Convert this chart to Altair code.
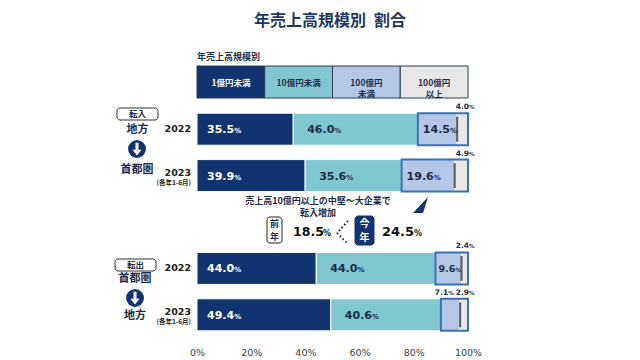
import altair as alt
import pandas as pd

# ---------------- data ----------------
categories = ["1億円未満", "10億円未満", "100億円未満", "100億円以上"]
legend_text = ["1億円未満", "10億円未満", "100億円\n未満", "100億円\n以上"]
rows = ["転入2022", "転入2023", "gap", "転出2022", "転出2023"]
bar_rows = ["転入2022", "転入2023", "転出2022", "転出2023"]
year_labels = ["2022", "2023", "2022", "2023"]
year_notes = ["", "(各年1-6月)", "", "(各年1-6月)"]
in_2022 = [35.5, 46.0, 14.5, 4.0]
in_2023 = [39.9, 35.6, 19.6, 4.9]
out_2022 = [44.0, 44.0, 9.6, 2.4]
out_2023 = [49.4, 40.6, 7.1, 2.9]
series = [in_2022, in_2023, out_2022, out_2023]
prev_share = "18.5"
now_share = "24.5"
x_ticks = [0, 20, 40, 60, 80, 100]

# ---------------- style ----------------
W, H = 271, 232
PX = W / 100
NUM_FONT = "DejaVu Sans"
JP_FONT = "Noto Sans CJK JP"
NAVY = "#0f3470"
DARK = "#1c2b4a"
seg_colors = [NAVY, "#81c7d2", "#b4c7e7", "#e7e7e7"]
pad_px = [10, 14, 5, 0]

recs = []
for r, vals in zip(bar_rows, series):
    s = 0.0
    total = sum(vals)
    for i, (c, v) in enumerate(zip(categories, vals)):
        num = f"{v:.1f}"
        e = s + v
        inside = bool(v >= 8)
        narrow = v < 12
        fs = 9.5 if narrow else 11
        pfs = 6 if narrow else 7
        pad = 3 if narrow else pad_px[i]
        numw = ((len(num) - 1) * 0.696 + 0.381) * fs
        off = 1 if i == 3 else -12
        recs.append(dict(row=r, cat=c, seg=i, value=v, start=s, end=e, rend=total,
                         num=num, inside=inside, fs=fs, pfs=pfs,
                         nx=s + pad / PX, px=s + (pad + numw) / PX,
                         ox=e + off / PX))
        s = e
df = pd.DataFrame(recs)
ldf = pd.DataFrame({"cat": categories, "ltext": legend_text})
ydf = pd.DataFrame({"row": bar_rows, "year": year_labels, "note": year_notes})
dummy = pd.DataFrame({"_": [0]})

xscale = alt.Scale(domain=[0, 100], nice=False, zero=True)
y_enc = alt.Y("row:N", scale=alt.Scale(domain=rows, paddingInner=0.31, paddingOuter=0.155), axis=None)
color_enc = alt.Color("cat:N", scale=alt.Scale(domain=categories, range=seg_colors), legend=None)
fs_enc = alt.Size("fs:Q", scale=None, legend=None)
pfs_enc = alt.Size("pfs:Q", scale=None, legend=None)


def xq(field, axis=None):
    return alt.X(field, scale=xscale, axis=axis)


base = alt.Chart(df)
x_axis = alt.Axis(values=x_ticks, labelExpr="datum.value + '%'", domain=False, ticks=False,
                  grid=False, labelFont=NUM_FONT, labelFontSize=9.5, labelColor="#404040",
                  labelPadding=9, labelFlush=False, title=None)

bars = base.mark_rect(stroke="white", strokeWidth=1).encode(
    x=xq("start:Q", x_axis), x2="end:Q", y=y_enc, color=color_enc)
outline = base.transform_filter("datum.seg == 2").mark_rect(
    fillOpacity=0, stroke="#3a70b5", strokeWidth=2).encode(x=xq("start:Q"), x2="rend:Q", y=y_enc)
tick = base.transform_filter("datum.seg == 2").mark_tick(
    color="#1a1a1a", thickness=2, size=25).encode(x=xq("end:Q"), y=y_enc)

num_in_w = base.transform_filter("datum.inside && datum.seg == 0").mark_text(
    align="left", baseline="alphabetic", dy=4, font=NUM_FONT, fontWeight="bold",
    color="white").encode(x=xq("nx:Q"), y=y_enc, text="num:N", size=fs_enc)
pct_in_w = base.transform_filter("datum.inside && datum.seg == 0").mark_text(
    align="left", baseline="alphabetic", dy=4, font=NUM_FONT, fontWeight="bold",
    color="white", text="%").encode(x=xq("px:Q"), y=y_enc, size=pfs_enc)
num_in_d = base.transform_filter("datum.inside && datum.seg > 0").mark_text(
    align="left", baseline="alphabetic", dy=4, font=NUM_FONT, fontWeight="bold",
    color=DARK).encode(x=xq("nx:Q"), y=y_enc, text="num:N", size=fs_enc)
pct_in_d = base.transform_filter("datum.inside && datum.seg > 0").mark_text(
    align="left", baseline="alphabetic", dy=4, font=NUM_FONT, fontWeight="bold",
    color=DARK, text="%").encode(x=xq("px:Q"), y=y_enc, size=pfs_enc)
num_out = base.transform_filter("!datum.inside").mark_text(
    align="right", baseline="alphabetic", dy=-20, font=NUM_FONT, fontWeight="bold",
    fontSize=7.5, color=DARK).encode(x=xq("ox:Q"), y=y_enc, text="num:N")
pct_out = base.transform_filter("!datum.inside").mark_text(
    align="left", baseline="alphabetic", dy=-20, font=NUM_FONT, fontWeight="bold",
    fontSize=5.5, color=DARK, text="%").encode(x=xq("ox:Q"), y=y_enc)

ybase = alt.Chart(ydf)
year_plain = ybase.transform_filter("datum.note == ''").mark_text(
    align="right", baseline="middle", font=NUM_FONT, fontWeight="bold", fontSize=9.5,
    color="#222").encode(x=alt.value(-6), y=y_enc, text="year:N")
year_main = ybase.transform_filter("datum.note != ''").mark_text(
    align="right", baseline="middle", dy=-3, font=NUM_FONT, fontWeight="bold", fontSize=9.5,
    color="#222").encode(x=alt.value(-6), y=y_enc, text="year:N")
year_note = ybase.transform_filter("datum.note != ''").mark_text(
    align="right", baseline="middle", dy=7, font=JP_FONT, fontWeight="bold", fontSize=6.5,
    color="#222").encode(x=alt.value(-6), y=y_enc, text="note:N")

# legend
leg_x = alt.X("cat:N", scale=alt.Scale(domain=categories, paddingInner=0, paddingOuter=0), axis=None)
leg_rect = alt.Chart(ldf).mark_rect(stroke="#2b3a55", strokeWidth=1).encode(
    x=leg_x, y=alt.value(-40), y2=alt.value(-8), color=color_enc)
leg_text = alt.Chart(ldf).mark_text(font=JP_FONT, fontSize=8.5, fontWeight="bold",
                                    lineBreak="\n", baseline="middle").encode(
    x=leg_x, y=alt.value(-23), text="ltext:N",
    color=alt.condition("datum.cat == '1億円未満'", alt.value("white"), alt.value(DARK)))


def label(txt, x, y, size, color=DARK, align="center", baseline="middle", font=JP_FONT, **kw):
    return alt.Chart(dummy).mark_text(text=txt, align=align, baseline=baseline, fontSize=size,
                                      fontWeight="bold", font=font, color=color, **kw).encode(
        x=alt.value(x), y=alt.value(y))


def box(x1, x2, y1, y2, fill, stroke, r=3):
    return alt.Chart(dummy).mark_rect(fill=fill, stroke=stroke, strokeWidth=1, cornerRadius=r).encode(
        x=alt.value(x1), x2=alt.value(x2), y=alt.value(y1), y2=alt.value(y2))


def rule(x1, y1, x2, y2, **kw):
    return alt.Chart(dummy).mark_rule(**kw).encode(
        x=alt.value(x1), y=alt.value(y1), x2=alt.value(x2), y2=alt.value(y2))


def sym(x, y, shape, size, fill):
    return alt.Chart(dummy).mark_point(shape=shape, size=size, filled=True, fill=fill,
                                       strokeWidth=0, opacity=1).encode(x=alt.value(x), y=alt.value(y))


ARROW = "M-0.22,-0.9 L0.22,-0.9 L0.22,0.1 L0.65,0.1 L0,0.95 L-0.65,0.1 L-0.22,0.1 Z"
POINTER = "M-0.94,1 L0.94,-1 L0.31,1 Z"

annos = [
    label("年売上高規模別\u2002割合", 133, -80.5, 16, color="#1f3864", baseline="alphabetic"),
    label("年売上高規模別", 0, -49, 9, align="left"),
    # group 1
    box(-80, -39, 2, 14, "white", "#333"),
    label("転入", -59.5, 8, 8.5),
    label("地方", -59.5, 24, 11),
    sym(-60, 43, "circle", 320, NAVY),
    sym(-60, 43, ARROW, 190, "white"),
    label("首都圏", -60, 64, 11),
    # group 2
    box(-82, -41, 153, 165, "white", "#333"),
    label("転出", -61.5, 159, 8.5),
    label("首都圏", -62, 173, 11),
    sym(-62, 192, "circle", 320, NAVY),
    sym(-62, 192, ARROW, 190, "white"),
    label("地方", -62, 210, 11),
    # middle annotation
    label("売上高10億円以上の中堅～大企業で", 121, 95, 9),
    label("転入増加", 121, 106.5, 9),
    box(70, 85, 111, 137, "white", "#222", 3),
    label("前\n年", 77.5, 118, 9, lineBreak="\n", lineHeight=13),
    label(prev_share, 96, 130, 12.5, align="left", baseline="alphabetic", font=NUM_FONT, color="#111"),
    label("%", 126, 130, 8, align="left", baseline="alphabetic", font=NUM_FONT, color="#111"),
    rule(151, 115, 140, 127, strokeDash=[1.5, 2.5], strokeWidth=2, color="#222"),
    rule(140, 127, 151, 138, strokeDash=[1.5, 2.5], strokeWidth=2, color="#222"),
    box(158, 177, 110, 139, NAVY, NAVY, 3),
    label("今\n年", 167.5, 117.5, 10, color="white", lineBreak="\n", lineHeight=14),
    label(now_share, 185, 130, 13, align="left", baseline="alphabetic", font=NUM_FONT, color="#111"),
    label("%", 217, 130, 8, align="left", baseline="alphabetic", font=NUM_FONT, color="#111"),
    sym(223.5, 99, POINTER, 256, NAVY),
]

chart = alt.layer(
    bars, outline, tick, num_in_w, pct_in_w, num_in_d, pct_in_d, num_out, pct_out,
    year_plain, year_main, year_note, leg_rect, leg_text, *annos
).resolve_scale(x="independent").properties(
    width=W, height=H,
    padding={"left": 189, "top": 98, "right": 164, "bottom": 22},
    autosize=alt.AutoSizeParams(type="none"),
    background="white",
).configure_view(stroke=None)

chart.save("out.html", embed_options={"renderer": "svg", "actions": False})
